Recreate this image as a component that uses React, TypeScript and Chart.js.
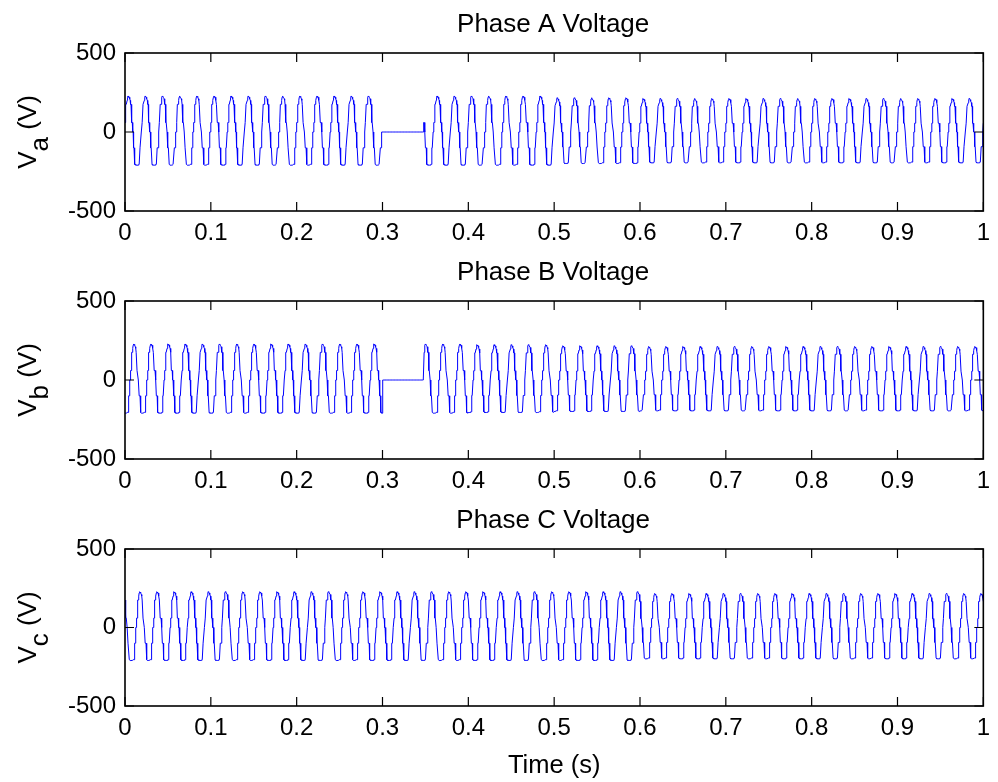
import React, { useEffect, useRef } from "react";
import { Chart, registerables } from "chart.js";

Chart.register(...registerables);

// ---- data ----
const SAMPLES_PER_CYCLE = 40; // 0.5 ms sampling of a 50 Hz wave
const CYCLES = 50;
// one period of the staircase output voltage (V), starting at the rising zero crossing
const CYCLE_SHAPE = [
  0, 60, 60, 175,
  175, 175, 200, 220, 228, 225, 220, 220, 210, 200, 175, 175,
  60, 60, 60, 0, 0, -100, -100, -100,
  -205, -205, -210, -210, -210, -210, -210, -210, -210, -205, -205, -205,
  -100, -100, -100, 0,
];
// sample offsets of each phase at t = 0
const SHIFT_A = 1;
const SHIFT_B = 28;
const SHIFT_C = 14;
// amplitude factor per 0.1 s window
const AMP_A = [1, 1, 1, 1, 1, 0.95, 0.93, 0.93, 0.93, 0.93];
const AMP_B = [1, 1, 1, 1, 0.98, 0.95, 0.93, 0.93, 0.93, 0.93];
const AMP_C = [1, 1, 1, 1, 1, 1, 0.95, 0.95, 0.95, 0.95];
// voltage sag (zero) interval, seconds
const GAP_A = [0.3, 0.3475];
const GAP_B = [0.3, 0.348];
const GAP_C: number[] = [];

const X_TICKS = [0, 0.1, 0.2, 0.3, 0.4, 0.5, 0.6, 0.7, 0.8, 0.9, 1];
const Y_TICKS = [-500, 0, 500];
const TITLES = ["Phase A Voltage", "Phase B Voltage", "Phase C Voltage"];
const Y_SUBS = ["a", "b", "c"];
const X_LABEL = "Time (s)";

const FONT = '"Liberation Sans", Arial, Helvetica, sans-serif';

function buildSeries(shift: number, amp: number[], gap: number[]) {
  const pts: { x: number; y: number }[] = [];
  const total = SAMPLES_PER_CYCLE * CYCLES;
  for (let n = 0; n <= total; n++) {
    const t = n / total;
    const seg = Math.min(amp.length - 1, Math.floor(t * 10));
    let v = CYCLE_SHAPE[(n + shift) % SAMPLES_PER_CYCLE] * amp[seg];
    if (gap.length === 2 && t >= gap[0] && t <= gap[1]) v = 0;
    pts.push({ x: t, y: v });
  }
  return pts;
}

const SERIES = [
  buildSeries(SHIFT_A, AMP_A, GAP_A),
  buildSeries(SHIFT_B, AMP_B, GAP_B),
  buildSeries(SHIFT_C, AMP_C, GAP_C),
];

const W = 998;
const H = 782;
const PLOT_LEFT = 125;
const PLOT_RIGHT = 991;
const PLOT_TOPS = [53, 301, 549];
const PLOT_BOTTOMS = [211, 459, 706];

function Panel({ idx }: { idx: number }) {
  const ref = useRef<HTMLCanvasElement | null>(null);
  useEffect(() => {
    const canvas = ref.current!;
    const decor = {
      id: "decor",
      afterDatasetsDraw(chart: any) {
        const ctx = chart.ctx as CanvasRenderingContext2D;
        const a = chart.chartArea;
        const xs = chart.scales.x;
        const ys = chart.scales.y;
        ctx.save();
        ctx.strokeStyle = "#000";
        ctx.lineWidth = 1.6;
        ctx.strokeRect(a.left, a.top, a.right - a.left, a.bottom - a.top);
        const tl = 9;
        ctx.lineWidth = 1.2;
        ctx.beginPath();
        for (const v of X_TICKS) {
          const px = xs.getPixelForValue(v);
          ctx.moveTo(px, a.bottom);
          ctx.lineTo(px, a.bottom - tl);
          ctx.moveTo(px, a.top);
          ctx.lineTo(px, a.top + tl);
        }
        for (const v of Y_TICKS) {
          const py = ys.getPixelForValue(v);
          ctx.moveTo(a.left, py);
          ctx.lineTo(a.left + tl, py);
          ctx.moveTo(a.right, py);
          ctx.lineTo(a.right - tl, py);
        }
        ctx.stroke();

        // title
        ctx.fillStyle = "#000";
        ctx.font = `26px ${FONT}`;
        ctx.textAlign = "center";
        ctx.textBaseline = "middle";
        ctx.fillText(TITLES[idx], (a.left + a.right) / 2 - 1, a.top - 28);

        // y label with subscript
        const cy = (a.top + a.bottom) / 2;
        ctx.save();
        ctx.translate(36, cy);
        ctx.rotate(-Math.PI / 2);
        ctx.font = `26px ${FONT}`;
        ctx.textAlign = "left";
        ctx.textBaseline = "alphabetic";
        const w1 = ctx.measureText("V").width;
        const w2 = ctx.measureText(Y_SUBS[idx]).width;
        const w3 = ctx.measureText(" (V)").width;
        const total = w1 + w2 + w3;
        const x0 = -total / 2;
        ctx.fillText("V", x0, 0);
        ctx.fillText(Y_SUBS[idx], x0 + w1, 12);
        ctx.fillText(" (V)", x0 + w1 + w2, 0);
        ctx.restore();

        if (idx === 2) {
          ctx.font = `25.5px ${FONT}`;
          ctx.textAlign = "center";
          ctx.textBaseline = "middle";
          ctx.fillText(X_LABEL, (a.left + a.right) / 2, 766);
        }
        ctx.restore();
      },
    };

    const chart = new Chart(canvas, {
      type: "line",
      data: {
        datasets: [
          {
            data: SERIES[idx],
            borderColor: "#0000ff",
            borderWidth: 1,
            pointRadius: 0,
            tension: 0,
            fill: false,
          },
        ],
      },
      options: {
        responsive: false,
        animation: false,
        devicePixelRatio: 1,
        parsing: false,
        normalized: true,
        events: [],
        layout: {
          padding: {
            top: PLOT_TOPS[idx],
            left: 0,
            right: W - PLOT_RIGHT,
            bottom: H - PLOT_BOTTOMS[idx] - 40,
          },
        },
        plugins: {
          legend: { display: false },
          tooltip: { enabled: false },
          title: { display: false },
        },
        scales: {
          x: {
            type: "linear",
            min: 0,
            max: 1,
            afterBuildTicks: (s: any) => {
              s.ticks = X_TICKS.map((v) => ({ value: v }));
            },
            afterFit: (s: any) => {
              s.height = 40;
            },
            grid: { display: false, drawTicks: false },
            border: { display: false },
            ticks: {
              autoSkip: false,
              maxRotation: 0,
              padding: 8,
              color: "#000",
              font: { family: FONT, size: 24 },
              callback: (v: any) => String(Math.round(Number(v) * 10) / 10),
            },
          },
          y: {
            type: "linear",
            min: -500,
            max: 500,
            afterBuildTicks: (s: any) => {
              s.ticks = Y_TICKS.map((v) => ({ value: v }));
            },
            afterFit: (s: any) => {
              s.width = PLOT_LEFT;
            },
            grid: { display: false, drawTicks: false },
            border: { display: false },
            ticks: {
              padding: 9,
              color: "#000",
              font: { family: FONT, size: 24 },
              callback: (v: any) => String(v),
            },
          },
        },
      },
      plugins: [decor],
    });
    return () => chart.destroy();
  }, [idx]);
  return (
    <canvas
      ref={ref}
      width={W}
      height={H}
      style={{ position: "absolute", left: 0, top: 0, width: W, height: H }}
    />
  );
}

export default function App() {
  return (
    <div
      style={{
        position: "fixed",
        left: 0,
        top: 0,
        width: W,
        height: H,
        background: "#fff",
      }}
    >
      <Panel idx={0} />
      <Panel idx={1} />
      <Panel idx={2} />
    </div>
  );
}
